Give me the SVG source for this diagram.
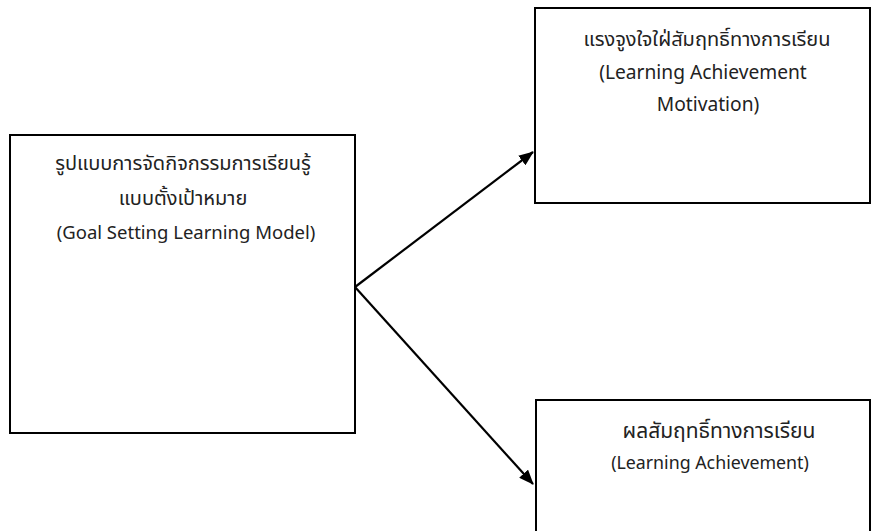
<svg xmlns="http://www.w3.org/2000/svg" width="872" height="531" viewBox="0 0 872 531">
<style>
.box{fill:#fff;stroke:#000;stroke-width:2}
.t{font-family:"Noto Sans","Noto Sans Thai","DejaVu Sans",sans-serif;fill:#222;text-anchor:middle}
.th{font-size:20px}
.en{font-size:18.5px}
.c{stroke:#000;stroke-width:2.2;fill:none;marker-end:url(#ah)}
</style>
<defs>
<marker id="ah" viewBox="0 0 15 12" refX="14" refY="6" markerWidth="15" markerHeight="12" markerUnits="userSpaceOnUse" orient="auto">
<path d="M0,0 L15,6 L0,12 z" fill="#000"/>
</marker>
</defs>
<rect width="872" height="531" fill="#fff"/>
<g id="node-goal">
<rect class="box" x="10" y="135" width="345" height="298"/>
<text class="t th" x="183" y="170">รูปแบบการจัดกิจกรรมการเรียนรู้</text>
<text class="t th" x="183" y="205">แบบตั้งเป้าหมาย</text>
<text class="t en" x="186" y="239">(Goal Setting Learning Model)</text>
</g>
<g id="node-motivation">
<rect class="box" x="535" y="8" width="335" height="195"/>
<text class="t th" x="707" y="46">แรงจูงใจใฝ่สัมฤทธิ์ทางการเรียน</text>
<text class="t en" x="703" y="79" style="font-size:19.2px">(Learning Achievement</text>
<text class="t en" x="708" y="111" style="font-size:19.2px">Motivation)</text>
</g>
<g id="node-achievement">
<rect class="box" x="536" y="400" width="334" height="140"/>
<text class="t th" x="719" y="438" style="font-size:21px">ผลสัมฤทธิ์ทางการเรียน</text>
<text class="t en" x="710" y="469" style="font-size:17.8px">(Learning Achievement)</text>
</g>
<g id="connectors">
<line class="c" x1="355" y1="287" x2="533" y2="152"/>
<line class="c" x1="355" y1="287" x2="533" y2="484"/>
</g>
</svg>
